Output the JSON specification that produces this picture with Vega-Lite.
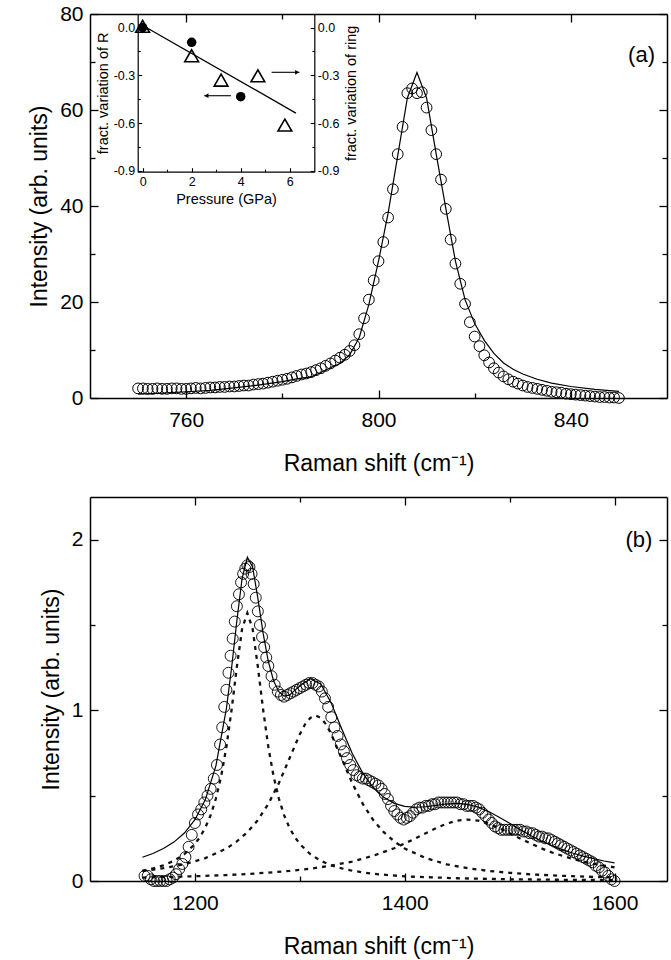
{
  "$schema": "https://vega.github.io/schema/vega-lite/v6.json",
  "padding": {"left": 28, "top": 3, "right": 4, "bottom": 2},
  "spacing": 21,
  "config": {
    "font": "Liberation Sans",
    "view": {"stroke": null},
    "axis": {"domainColor": "black", "domainWidth": 1.5, "tickColor": "black", "tickWidth": 1.3, "ticks": true, "labelColor": "black", "titleColor": "black", "grid": false, "labelFont": "Liberation Sans", "titleFont": "Liberation Sans", "titleFontWeight": "normal"}
  },
  "datasets": {
    "ramanA": [
      {"shift":750,"intensity":2.0},{"shift":751,"intensity":2.0},{"shift":752,"intensity":1.9},{"shift":753,"intensity":1.9},{"shift":754,"intensity":2.0},{"shift":755,"intensity":1.9},{"shift":756,"intensity":1.9},{"shift":757,"intensity":2.0},{"shift":758,"intensity":2.0},{"shift":759,"intensity":1.9},
      {"shift":760,"intensity":1.9},{"shift":761,"intensity":2.0},{"shift":762,"intensity":2.1},{"shift":763,"intensity":2.0},{"shift":764,"intensity":2.1},{"shift":765,"intensity":2.2},{"shift":766,"intensity":2.2},{"shift":767,"intensity":2.3},{"shift":768,"intensity":2.3},{"shift":769,"intensity":2.4},
      {"shift":770,"intensity":2.4},{"shift":771,"intensity":2.5},{"shift":772,"intensity":2.6},{"shift":773,"intensity":2.6},{"shift":774,"intensity":2.8},{"shift":775,"intensity":2.9},{"shift":776,"intensity":3.0},{"shift":777,"intensity":3.2},{"shift":778,"intensity":3.4},{"shift":779,"intensity":3.6},
      {"shift":780,"intensity":3.8},{"shift":781,"intensity":4.0},{"shift":782,"intensity":4.3},{"shift":783,"intensity":4.6},{"shift":784,"intensity":4.9},{"shift":785,"intensity":5.1},{"shift":786,"intensity":5.4},{"shift":787,"intensity":5.8},{"shift":788,"intensity":6.2},{"shift":789,"intensity":6.7},
      {"shift":790,"intensity":7.2},{"shift":791,"intensity":7.8},{"shift":792,"intensity":8.4},{"shift":793,"intensity":9.0},{"shift":794,"intensity":9.8},{"shift":795,"intensity":11.0},{"shift":796,"intensity":13.3},{"shift":797,"intensity":16.6},{"shift":798,"intensity":20.5},{"shift":799,"intensity":24.5},
      {"shift":800,"intensity":28.5},{"shift":801,"intensity":32.5},{"shift":802,"intensity":37.6},{"shift":803,"intensity":43.5},{"shift":804,"intensity":50.8},{"shift":805,"intensity":56.5},{"shift":806,"intensity":63.5},{"shift":807,"intensity":64.5},{"shift":808,"intensity":63.5},{"shift":809,"intensity":63.7},
      {"shift":810,"intensity":60.5},{"shift":811,"intensity":55.8},{"shift":812,"intensity":50.8},{"shift":813,"intensity":45.5},{"shift":814,"intensity":39.4},{"shift":815,"intensity":33.0},{"shift":816,"intensity":28.0},{"shift":817,"intensity":23.8},{"shift":818,"intensity":19.6},{"shift":819,"intensity":15.8},
      {"shift":820,"intensity":12.8},{"shift":821,"intensity":10.8},{"shift":822,"intensity":8.9},{"shift":823,"intensity":7.4},{"shift":824,"intensity":6.2},{"shift":825,"intensity":5.3},{"shift":826,"intensity":4.5},{"shift":827,"intensity":3.9},{"shift":828,"intensity":3.4},{"shift":829,"intensity":3.0},
      {"shift":830,"intensity":2.6},{"shift":831,"intensity":2.3},{"shift":832,"intensity":2.1},{"shift":833,"intensity":1.9},{"shift":834,"intensity":1.7},{"shift":835,"intensity":1.5},{"shift":836,"intensity":1.3},{"shift":837,"intensity":1.2},{"shift":838,"intensity":1.1},{"shift":839,"intensity":0.9},
      {"shift":840,"intensity":0.8},{"shift":841,"intensity":0.7},{"shift":842,"intensity":0.6},{"shift":843,"intensity":0.5},{"shift":844,"intensity":0.4},{"shift":845,"intensity":0.3},{"shift":846,"intensity":0.2},{"shift":847,"intensity":0.2},{"shift":848,"intensity":0.1},{"shift":849,"intensity":0.1},
      {"shift":850,"intensity":0.0}
    ],
    "fitA": [
      {"shift":750,"intensity":0.8},{"shift":755,"intensity":1.0},{"shift":760,"intensity":1.3},{"shift":765,"intensity":1.6},{"shift":770,"intensity":2.1},{"shift":775,"intensity":2.7},{"shift":780,"intensity":3.4},{"shift":783,"intensity":4.0},{"shift":786,"intensity":4.4},{"shift":788,"intensity":5.3},
      {"shift":790,"intensity":6.3},{"shift":792,"intensity":7.2},{"shift":794,"intensity":9.0},{"shift":796,"intensity":12.6},{"shift":798,"intensity":19.5},{"shift":800,"intensity":28.5},{"shift":802,"intensity":38.5},{"shift":804,"intensity":50.5},{"shift":806,"intensity":62.5},{"shift":808,"intensity":67.8},
      {"shift":810,"intensity":62.5},{"shift":812,"intensity":50.8},{"shift":814,"intensity":39.5},{"shift":816,"intensity":28.5},{"shift":818,"intensity":20.5},{"shift":820,"intensity":15.5},{"shift":822,"intensity":12.0},{"shift":824,"intensity":9.3},{"shift":826,"intensity":7.3},{"shift":828,"intensity":6.0},
      {"shift":830,"intensity":5.0},{"shift":833,"intensity":3.9},{"shift":836,"intensity":3.1},{"shift":840,"intensity":2.4},{"shift":845,"intensity":1.8},{"shift":850,"intensity":1.4}
    ],
    "labelA": [{"shift":857.5,"intensity":71.5,"label":"(a)"}],
    "insetR": [{"pressure":0,"frac":0.0},{"pressure":2,"frac":-0.093},{"pressure":4,"frac":-0.434}],
    "insetRing": [{"pressure":0,"frac":0.008},{"pressure":2,"frac":-0.177},{"pressure":3.2,"frac":-0.33},{"pressure":4.7,"frac":-0.303},{"pressure":5.8,"frac":-0.612}],
    "insetFit": [{"pressure":-0.1,"frac":0.022},{"pressure":6.25,"frac":-0.537}],
    "arrows": [{"from":3.6,"to":2.515,"frac":-0.428,"dir":"left"},{"from":5.26,"to":6.39,"frac":-0.281,"dir":"right"}],
    "heads": [{"pressure":2.6,"frac":-0.428,"dir":"left"},{"pressure":6.3,"frac":-0.281,"dir":"right"}],
    "ramanB": [
      {"shift":1152,"intensity":0.03},{"shift":1155,"intensity":0.03},{"shift":1158,"intensity":0.01},{"shift":1161,"intensity":0.0},{"shift":1164,"intensity":0.0},{"shift":1167,"intensity":0.0},{"shift":1170,"intensity":0.0},{"shift":1173,"intensity":0.0},{"shift":1176,"intensity":0.01},{"shift":1179,"intensity":0.02},
      {"shift":1182,"intensity":0.04},{"shift":1185,"intensity":0.07},{"shift":1188,"intensity":0.10},{"shift":1191,"intensity":0.14},{"shift":1194,"intensity":0.20},{"shift":1197,"intensity":0.27},{"shift":1200,"intensity":0.34},{"shift":1203,"intensity":0.39},{"shift":1206,"intensity":0.42},{"shift":1209,"intensity":0.46},
      {"shift":1212,"intensity":0.50},{"shift":1215,"intensity":0.54},{"shift":1218,"intensity":0.60},{"shift":1221,"intensity":0.68},{"shift":1224,"intensity":0.80},{"shift":1226,"intensity":0.90},{"shift":1228,"intensity":1.02},{"shift":1230,"intensity":1.12},{"shift":1232,"intensity":1.22},{"shift":1234,"intensity":1.32},
      {"shift":1236,"intensity":1.42},{"shift":1238,"intensity":1.52},{"shift":1240,"intensity":1.61},{"shift":1242,"intensity":1.68},{"shift":1244,"intensity":1.75},{"shift":1246,"intensity":1.80},{"shift":1248,"intensity":1.83},{"shift":1250,"intensity":1.85},{"shift":1252,"intensity":1.84},{"shift":1254,"intensity":1.80},
      {"shift":1256,"intensity":1.74},{"shift":1258,"intensity":1.66},{"shift":1260,"intensity":1.58},{"shift":1262,"intensity":1.50},{"shift":1264,"intensity":1.43},{"shift":1266,"intensity":1.37},{"shift":1268,"intensity":1.31},{"shift":1270,"intensity":1.26},{"shift":1273,"intensity":1.20},{"shift":1276,"intensity":1.15},
      {"shift":1279,"intensity":1.11},{"shift":1282,"intensity":1.09},{"shift":1285,"intensity":1.08},{"shift":1288,"intensity":1.09},{"shift":1291,"intensity":1.10},{"shift":1294,"intensity":1.11},{"shift":1297,"intensity":1.12},{"shift":1300,"intensity":1.13},{"shift":1303,"intensity":1.14},{"shift":1306,"intensity":1.15},
      {"shift":1309,"intensity":1.16},{"shift":1312,"intensity":1.16},{"shift":1315,"intensity":1.15},{"shift":1318,"intensity":1.14},{"shift":1321,"intensity":1.11},{"shift":1324,"intensity":1.07},{"shift":1327,"intensity":1.02},{"shift":1330,"intensity":0.96},{"shift":1333,"intensity":0.90},{"shift":1336,"intensity":0.85},
      {"shift":1339,"intensity":0.80},{"shift":1342,"intensity":0.76},{"shift":1345,"intensity":0.72},{"shift":1348,"intensity":0.68},{"shift":1351,"intensity":0.65},{"shift":1354,"intensity":0.62},{"shift":1357,"intensity":0.61},{"shift":1360,"intensity":0.60},{"shift":1363,"intensity":0.60},{"shift":1366,"intensity":0.59},
      {"shift":1369,"intensity":0.58},{"shift":1372,"intensity":0.57},{"shift":1375,"intensity":0.56},{"shift":1378,"intensity":0.54},{"shift":1381,"intensity":0.51},{"shift":1384,"intensity":0.48},{"shift":1387,"intensity":0.44},{"shift":1390,"intensity":0.41},{"shift":1393,"intensity":0.39},{"shift":1396,"intensity":0.37},
      {"shift":1399,"intensity":0.36},{"shift":1402,"intensity":0.37},{"shift":1405,"intensity":0.38},{"shift":1408,"intensity":0.40},{"shift":1411,"intensity":0.42},{"shift":1414,"intensity":0.43},{"shift":1417,"intensity":0.43},{"shift":1420,"intensity":0.44},{"shift":1423,"intensity":0.44},{"shift":1426,"intensity":0.45},
      {"shift":1429,"intensity":0.45},{"shift":1432,"intensity":0.46},{"shift":1435,"intensity":0.46},{"shift":1438,"intensity":0.46},{"shift":1441,"intensity":0.46},{"shift":1444,"intensity":0.46},{"shift":1447,"intensity":0.46},{"shift":1450,"intensity":0.46},{"shift":1453,"intensity":0.45},{"shift":1456,"intensity":0.45},
      {"shift":1459,"intensity":0.44},{"shift":1462,"intensity":0.44},{"shift":1465,"intensity":0.44},{"shift":1468,"intensity":0.43},{"shift":1471,"intensity":0.42},{"shift":1474,"intensity":0.40},{"shift":1477,"intensity":0.38},{"shift":1480,"intensity":0.36},{"shift":1483,"intensity":0.34},{"shift":1486,"intensity":0.32},
      {"shift":1489,"intensity":0.31},{"shift":1492,"intensity":0.30},{"shift":1495,"intensity":0.30},{"shift":1498,"intensity":0.30},{"shift":1501,"intensity":0.30},{"shift":1504,"intensity":0.30},{"shift":1507,"intensity":0.30},{"shift":1510,"intensity":0.30},{"shift":1513,"intensity":0.29},{"shift":1516,"intensity":0.29},
      {"shift":1519,"intensity":0.28},{"shift":1522,"intensity":0.28},{"shift":1525,"intensity":0.27},{"shift":1528,"intensity":0.26},{"shift":1531,"intensity":0.26},{"shift":1534,"intensity":0.25},{"shift":1537,"intensity":0.25},{"shift":1540,"intensity":0.24},{"shift":1543,"intensity":0.23},{"shift":1546,"intensity":0.22},
      {"shift":1549,"intensity":0.21},{"shift":1552,"intensity":0.20},{"shift":1555,"intensity":0.19},{"shift":1558,"intensity":0.18},{"shift":1561,"intensity":0.17},{"shift":1564,"intensity":0.16},{"shift":1567,"intensity":0.15},{"shift":1570,"intensity":0.14},{"shift":1573,"intensity":0.13},{"shift":1576,"intensity":0.12},
      {"shift":1579,"intensity":0.11},{"shift":1582,"intensity":0.09},{"shift":1585,"intensity":0.08},{"shift":1588,"intensity":0.06},{"shift":1591,"intensity":0.05},{"shift":1594,"intensity":0.03},{"shift":1597,"intensity":0.01},{"shift":1600,"intensity":0.0}
    ],
    "fitB": [
      {"shift":1150,"intensity":0.139},{"shift":1160,"intensity":0.161},{"shift":1170,"intensity":0.190},{"shift":1180,"intensity":0.228},{"shift":1190,"intensity":0.281},{"shift":1200,"intensity":0.359},{"shift":1210,"intensity":0.478},{"shift":1220,"intensity":0.674},{"shift":1230,"intensity":1.010},{"shift":1235,"intensity":1.251},
      {"shift":1240,"intensity":1.526},{"shift":1245,"intensity":1.774},{"shift":1250,"intensity":1.897},{"shift":1255,"intensity":1.840},{"shift":1260,"intensity":1.657},{"shift":1265,"intensity":1.452},{"shift":1270,"intensity":1.286},{"shift":1275,"intensity":1.173},{"shift":1280,"intensity":1.109},{"shift":1285,"intensity":1.084},
      {"shift":1290,"intensity":1.089},{"shift":1300,"intensity":1.142},{"shift":1310,"intensity":1.185},{"shift":1320,"intensity":1.154},{"shift":1330,"intensity":1.042},{"shift":1340,"intensity":0.891},{"shift":1350,"intensity":0.747},{"shift":1360,"intensity":0.632},{"shift":1370,"intensity":0.547},{"shift":1380,"intensity":0.490},
      {"shift":1390,"intensity":0.455},{"shift":1400,"intensity":0.437},{"shift":1410,"intensity":0.432},{"shift":1420,"intensity":0.435},{"shift":1430,"intensity":0.443},{"shift":1440,"intensity":0.451},{"shift":1450,"intensity":0.455},{"shift":1460,"intensity":0.449},{"shift":1470,"intensity":0.433},{"shift":1480,"intensity":0.407},
      {"shift":1490,"intensity":0.374},{"shift":1500,"intensity":0.338},{"shift":1510,"intensity":0.301},{"shift":1520,"intensity":0.267},{"shift":1530,"intensity":0.236},{"shift":1540,"intensity":0.208},{"shift":1550,"intensity":0.184},{"shift":1560,"intensity":0.164},{"shift":1570,"intensity":0.146},{"shift":1580,"intensity":0.131},
      {"shift":1590,"intensity":0.117},{"shift":1600,"intensity":0.106}
    ],
    "compB": [
      {"band":"c1","shift":1150,"intensity":0.060},{"band":"c1","shift":1160,"intensity":0.074},{"band":"c1","shift":1170,"intensity":0.092},{"band":"c1","shift":1180,"intensity":0.118},{"band":"c1","shift":1190,"intensity":0.157},{"band":"c1","shift":1200,"intensity":0.217},{"band":"c1","shift":1205,"intensity":0.259},{"band":"c1","shift":1210,"intensity":0.314},{"band":"c1","shift":1215,"intensity":0.386},{"band":"c1","shift":1220,"intensity":0.483},
      {"band":"c1","shift":1225,"intensity":0.613},{"band":"c1","shift":1230,"intensity":0.785},{"band":"c1","shift":1235,"intensity":1.005},{"band":"c1","shift":1240,"intensity":1.256},{"band":"c1","shift":1245,"intensity":1.478},{"band":"c1","shift":1250,"intensity":1.570},{"band":"c1","shift":1255,"intensity":1.478},{"band":"c1","shift":1260,"intensity":1.256},{"band":"c1","shift":1265,"intensity":1.005},{"band":"c1","shift":1270,"intensity":0.785},
      {"band":"c1","shift":1275,"intensity":0.613},{"band":"c1","shift":1280,"intensity":0.483},{"band":"c1","shift":1285,"intensity":0.386},{"band":"c1","shift":1290,"intensity":0.314},{"band":"c1","shift":1295,"intensity":0.259},{"band":"c1","shift":1300,"intensity":0.217},{"band":"c1","shift":1310,"intensity":0.157},{"band":"c1","shift":1320,"intensity":0.118},{"band":"c1","shift":1330,"intensity":0.092},{"band":"c1","shift":1340,"intensity":0.074},
      {"band":"c1","shift":1350,"intensity":0.060},{"band":"c1","shift":1370,"intensity":0.042},{"band":"c1","shift":1400,"intensity":0.027},{"band":"c1","shift":1450,"intensity":0.016},{"band":"c1","shift":1500,"intensity":0.010},{"band":"c1","shift":1550,"intensity":0.007},{"band":"c1","shift":1600,"intensity":0.005},
      {"band":"c2","shift":1150,"intensity":0.059},{"band":"c2","shift":1170,"intensity":0.075},{"band":"c2","shift":1190,"intensity":0.098},{"band":"c2","shift":1210,"intensity":0.134},{"band":"c2","shift":1230,"intensity":0.190},{"band":"c2","shift":1240,"intensity":0.232},{"band":"c2","shift":1250,"intensity":0.286},{"band":"c2","shift":1260,"intensity":0.357},{"band":"c2","shift":1270,"intensity":0.452},{"band":"c2","shift":1280,"intensity":0.573},
      {"band":"c2","shift":1290,"intensity":0.716},{"band":"c2","shift":1300,"intensity":0.860},{"band":"c2","shift":1305,"intensity":0.918},{"band":"c2","shift":1310,"intensity":0.956},{"band":"c2","shift":1315,"intensity":0.970},{"band":"c2","shift":1320,"intensity":0.956},{"band":"c2","shift":1325,"intensity":0.918},{"band":"c2","shift":1330,"intensity":0.860},{"band":"c2","shift":1340,"intensity":0.716},{"band":"c2","shift":1350,"intensity":0.573},
      {"band":"c2","shift":1360,"intensity":0.452},{"band":"c2","shift":1370,"intensity":0.357},{"band":"c2","shift":1380,"intensity":0.286},{"band":"c2","shift":1390,"intensity":0.232},{"band":"c2","shift":1400,"intensity":0.190},{"band":"c2","shift":1420,"intensity":0.134},{"band":"c2","shift":1440,"intensity":0.098},{"band":"c2","shift":1460,"intensity":0.075},{"band":"c2","shift":1480,"intensity":0.059},{"band":"c2","shift":1500,"intensity":0.048},
      {"band":"c2","shift":1520,"intensity":0.039},{"band":"c2","shift":1540,"intensity":0.033},{"band":"c2","shift":1560,"intensity":0.028},{"band":"c2","shift":1580,"intensity":0.024},{"band":"c2","shift":1600,"intensity":0.021},
      {"band":"c3","shift":1150,"intensity":0.020},{"band":"c3","shift":1170,"intensity":0.023},{"band":"c3","shift":1190,"intensity":0.026},{"band":"c3","shift":1210,"intensity":0.030},{"band":"c3","shift":1230,"intensity":0.035},{"band":"c3","shift":1250,"intensity":0.041},{"band":"c3","shift":1270,"intensity":0.049},{"band":"c3","shift":1290,"intensity":0.059},{"band":"c3","shift":1310,"intensity":0.072},{"band":"c3","shift":1330,"intensity":0.090},
      {"band":"c3","shift":1350,"intensity":0.114},{"band":"c3","shift":1370,"intensity":0.148},{"band":"c3","shift":1390,"intensity":0.192},{"band":"c3","shift":1400,"intensity":0.220},{"band":"c3","shift":1410,"intensity":0.249},{"band":"c3","shift":1420,"intensity":0.280},{"band":"c3","shift":1430,"intensity":0.310},{"band":"c3","shift":1440,"intensity":0.336},{"band":"c3","shift":1450,"intensity":0.354},{"band":"c3","shift":1460,"intensity":0.360},
      {"band":"c3","shift":1470,"intensity":0.354},{"band":"c3","shift":1480,"intensity":0.336},{"band":"c3","shift":1490,"intensity":0.310},{"band":"c3","shift":1500,"intensity":0.280},{"band":"c3","shift":1510,"intensity":0.249},{"band":"c3","shift":1520,"intensity":0.220},{"band":"c3","shift":1530,"intensity":0.192},{"band":"c3","shift":1540,"intensity":0.168},{"band":"c3","shift":1550,"intensity":0.148},{"band":"c3","shift":1560,"intensity":0.130},
      {"band":"c3","shift":1570,"intensity":0.114},{"band":"c3","shift":1580,"intensity":0.101},{"band":"c3","shift":1590,"intensity":0.090},{"band":"c3","shift":1600,"intensity":0.080}
    ],
    "labelB": [{"shift":1636,"intensity":2.0,"label":"(b)"}]
  },
  "vconcat": [
    {
      "width": 577,
      "height": 384,
      "resolve": {"scale": {"x": "independent", "y": "independent"}, "axis": {"x": "independent", "y": "independent"}},
      "layer": [
        {
          "resolve": {"axis": {"x": "independent", "y": "independent"}},
          "layer": [
            {
              "data": {"name": "ramanA"},
              "mark": {"type": "point", "shape": "circle", "filled": false, "size": 115, "stroke": "black", "strokeWidth": 1, "opacity": 1},
              "encoding": {
                "x": {"field": "shift", "type": "quantitative", "scale": {"domain": [740, 860], "nice": false, "zero": false},
                  "axis": {"orient": "bottom", "title": "Raman shift (cm⁻¹)", "values": [760, 800, 840], "format": "d", "tickSize": -8, "labelPadding": 19, "labelFontSize": 21, "titleFontSize": 23, "titlePadding": 22}},
                "y": {"field": "intensity", "type": "quantitative", "scale": {"domain": [0, 80], "nice": false},
                  "axis": {"orient": "left", "title": "Intensity (arb. units)", "values": [0, 20, 40, 60, 80], "format": "d", "tickSize": -8, "labelPadding": 15, "labelFontSize": 21, "titleFontSize": 23, "titlePadding": 8}}
              }
            },
            {
              "data": {"name": "fitA"},
              "mark": {"type": "line", "color": "black", "strokeWidth": 1.2},
              "encoding": {
                "x": {"field": "shift", "type": "quantitative", "scale": {"domain": [740, 860], "nice": false, "zero": false},
                  "axis": {"orient": "top", "title": null, "labels": false, "values": [760, 800, 840], "tickSize": -8}},
                "y": {"field": "intensity", "type": "quantitative", "scale": {"domain": [0, 80], "nice": false},
                  "axis": {"orient": "right", "title": null, "labels": false, "values": [0, 20, 40, 60, 80], "tickSize": -8}}
              }
            },
            {
              "data": {"name": "labelA"},
              "mark": {"type": "text", "align": "right", "baseline": "middle", "fontSize": 22, "color": "black"},
              "encoding": {
                "x": {"field": "shift", "type": "quantitative", "scale": {"domain": [740, 860], "nice": false, "zero": false},
                  "axis": {"orient": "bottom", "title": null, "labels": false, "domain": false, "values": [780, 820], "tickSize": -5}},
                "y": {"field": "intensity", "type": "quantitative", "scale": {"domain": [0, 80], "nice": false},
                  "axis": {"orient": "left", "title": null, "labels": false, "domain": false, "values": [10, 30, 50, 70], "tickSize": -5}},
                "text": {"field": "label"}
              }
            },
            {
              "data": {"name": "labelA"},
              "mark": {"type": "text", "opacity": 0},
              "encoding": {
                "x": {"field": "shift", "type": "quantitative", "scale": {"domain": [740, 860], "nice": false, "zero": false},
                  "axis": {"orient": "top", "title": null, "labels": false, "domain": false, "values": [780, 820], "tickSize": -5}},
                "y": {"field": "intensity", "type": "quantitative", "scale": {"domain": [0, 80], "nice": false},
                  "axis": {"orient": "right", "title": null, "labels": false, "domain": false, "values": [10, 30, 50, 70], "tickSize": -5}}
              }
            }
          ]
        },
        {
          "resolve": {"scale": {"y": "independent"}, "axis": {"x": "independent", "y": "independent"}},
          "layer": [
            {
              "data": {"name": "insetFit"},
              "mark": {"type": "line", "color": "black", "strokeWidth": 1.3},
              "encoding": {
                "x": {"field": "pressure", "type": "quantitative", "scale": {"domain": [-0.2, 7], "range": [47.7, 224.3], "nice": false, "zero": false}, "axis": null},
                "y": {"field": "frac", "type": "quantitative", "scale": {"domain": [-0.905, 0.085], "range": [157.7, 0], "nice": false, "zero": false}, "axis": null}
              }
            },
            {
              "data": {"name": "insetR"},
              "mark": {"type": "point", "shape": "circle", "filled": true, "size": 90, "color": "black", "opacity": 1},
              "encoding": {
                "x": {"field": "pressure", "type": "quantitative", "scale": {"domain": [-0.2, 7], "range": [47.7, 224.3], "nice": false, "zero": false},
                  "axis": {"orient": "bottom", "offset": -226.3, "title": "Pressure (GPa)", "values": [0, 2, 4, 6], "format": "d", "tickSize": -4, "labelPadding": 8, "labelFontSize": 12.5, "titleFontSize": 14.5, "titlePadding": 4, "domainWidth": 1.2, "tickWidth": 1.1}},
                "y": {"field": "frac", "type": "quantitative", "scale": {"domain": [-0.905, 0.085], "range": [157.7, 0], "nice": false, "zero": false},
                  "axis": {"orient": "left", "offset": -47.7, "title": "fract. variation of R", "values": [-0.9, -0.6, -0.3, 0], "labelExpr": "(datum.value < -0.001 ? '-' : '') + format(abs(datum.value), '.1f')", "tickSize": -4, "labelPadding": 7, "labelFontSize": 12.5, "titleFontSize": 14.5, "titlePadding": 3, "domainWidth": 1.2, "tickWidth": 1.1}}
              }
            },
            {
              "data": {"name": "insetRing"},
              "mark": {"type": "point", "shape": "triangle-up", "filled": false, "size": 190, "stroke": "black", "strokeWidth": 1.6, "opacity": 1},
              "encoding": {
                "x": {"field": "pressure", "type": "quantitative", "scale": {"domain": [-0.2, 7], "range": [47.7, 224.3], "nice": false, "zero": false}, "axis": null},
                "y": {"field": "frac", "type": "quantitative", "scale": {"domain": [-0.905, 0.085], "range": [157.7, 0], "nice": false, "zero": false},
                  "axis": {"orient": "right", "offset": -352.7, "title": "fract. variation of ring", "titleAngle": 270, "titleBaseline": "top", "values": [-0.9, -0.6, -0.3, 0], "labelExpr": "(datum.value < -0.001 ? '-' : '') + format(abs(datum.value), '.1f')", "tickSize": -4, "labelPadding": 7, "labelFontSize": 12.5, "titleFontSize": 14.5, "titlePadding": 6, "domainWidth": 1.2, "tickWidth": 1.1}}
              }
            },
            {
              "data": {"name": "arrows"},
              "mark": {"type": "rule", "color": "black", "strokeWidth": 1.1},
              "encoding": {
                "x": {"field": "from", "type": "quantitative", "scale": {"domain": [-0.2, 7], "range": [47.7, 224.3], "nice": false, "zero": false},
                  "axis": {"orient": "bottom", "offset": -226.3, "title": null, "labels": false, "domain": false, "values": [1, 3, 5], "tickSize": -2.5, "tickWidth": 1.1}},
                "x2": {"field": "to"},
                "y": {"field": "frac", "type": "quantitative", "scale": {"domain": [-0.905, 0.085], "range": [157.7, 0], "nice": false, "zero": false},
                  "axis": {"orient": "left", "offset": -47.7, "title": null, "labels": false, "domain": false, "values": [-0.75, -0.45, -0.15], "tickSize": -2.5, "tickWidth": 1.1}}
              }
            },
            {
              "data": {"name": "heads"},
              "mark": {"type": "point", "filled": true, "size": 22, "color": "black", "opacity": 1},
              "encoding": {
                "x": {"field": "pressure", "type": "quantitative", "scale": {"domain": [-0.2, 7], "range": [47.7, 224.3], "nice": false, "zero": false}, "axis": null},
                "y": {"field": "frac", "type": "quantitative", "scale": {"domain": [-0.905, 0.085], "range": [157.7, 0], "nice": false, "zero": false},
                  "axis": {"orient": "right", "offset": -352.7, "title": null, "labels": false, "domain": false, "values": [-0.75, -0.45, -0.15], "tickSize": -2.5, "tickWidth": 1.1}},
                "shape": {"field": "dir", "type": "nominal", "scale": {"domain": ["left", "right"], "range": ["triangle-left", "triangle-right"]}, "legend": null}
              }
            }
          ]
        }
      ]
    },
    {
      "width": 577,
      "height": 384,
      "resolve": {"axis": {"x": "independent", "y": "independent"}},
      "layer": [
        {
          "data": {"name": "compB"},
          "mark": {"type": "line", "color": "#111111", "strokeWidth": 2.3, "strokeDash": [4, 5]},
          "encoding": {
            "x": {"field": "shift", "type": "quantitative", "scale": {"domain": [1100, 1650], "nice": false, "zero": false},
              "axis": {"orient": "bottom", "title": null, "labels": false, "domain": false, "values": [1300, 1500], "tickSize": -5}},
            "y": {"field": "intensity", "type": "quantitative", "scale": {"domain": [0, 2.25], "nice": false},
              "axis": {"orient": "left", "title": null, "labels": false, "domain": false, "values": [0.5, 1.5], "tickSize": -5}},
            "detail": {"field": "band"}
          }
        },
        {
          "data": {"name": "ramanB"},
          "mark": {"type": "point", "shape": "circle", "filled": false, "size": 120, "stroke": "black", "strokeWidth": 0.9, "opacity": 1},
          "encoding": {
            "x": {"field": "shift", "type": "quantitative", "scale": {"domain": [1100, 1650], "nice": false, "zero": false},
              "axis": {"orient": "bottom", "title": "Raman shift (cm⁻¹)", "values": [1200, 1400, 1600], "format": "d", "tickSize": -8, "labelPadding": 19, "labelFontSize": 21, "titleFontSize": 23, "titlePadding": 22}},
            "y": {"field": "intensity", "type": "quantitative", "scale": {"domain": [0, 2.25], "nice": false},
              "axis": {"orient": "left", "title": "Intensity (arb. units)", "values": [0, 1, 2], "format": "d", "tickSize": -8, "labelPadding": 15, "labelFontSize": 21, "titleFontSize": 23, "titlePadding": 8}}
          }
        },
        {
          "data": {"name": "fitB"},
          "mark": {"type": "line", "color": "black", "strokeWidth": 1.2},
          "encoding": {
            "x": {"field": "shift", "type": "quantitative", "scale": {"domain": [1100, 1650], "nice": false, "zero": false},
              "axis": {"orient": "top", "title": null, "labels": false, "values": [1200, 1400, 1600], "tickSize": -8}},
            "y": {"field": "intensity", "type": "quantitative", "scale": {"domain": [0, 2.25], "nice": false},
              "axis": {"orient": "right", "title": null, "labels": false, "values": [0, 1, 2], "tickSize": -8}}
          }
        },
        {
          "data": {"name": "labelB"},
          "mark": {"type": "text", "align": "right", "baseline": "middle", "fontSize": 22, "color": "black"},
          "encoding": {
            "x": {"field": "shift", "type": "quantitative", "scale": {"domain": [1100, 1650], "nice": false, "zero": false},
              "axis": {"orient": "top", "title": null, "labels": false, "domain": false, "values": [1300, 1500], "tickSize": -5}},
            "y": {"field": "intensity", "type": "quantitative", "scale": {"domain": [0, 2.25], "nice": false},
              "axis": {"orient": "right", "title": null, "labels": false, "domain": false, "values": [0.5, 1.5], "tickSize": -5}},
            "text": {"field": "label"}
          }
        }
      ]
    }
  ]
}
